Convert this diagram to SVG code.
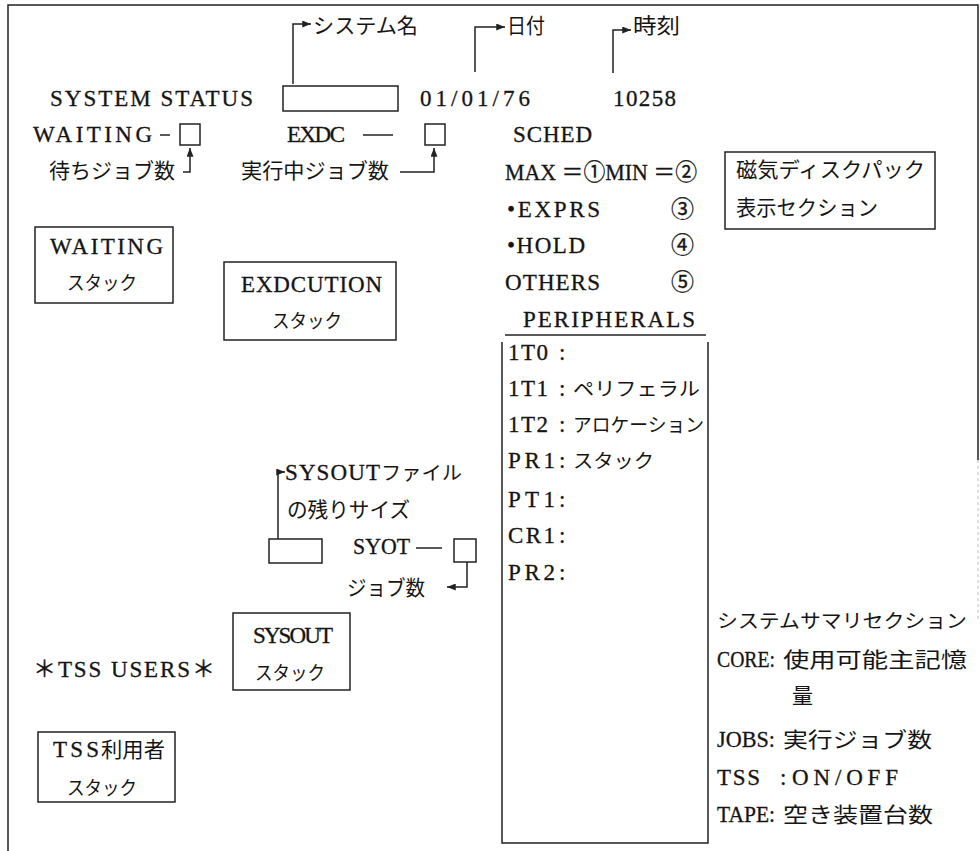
<svg xmlns="http://www.w3.org/2000/svg" width="980" height="851" viewBox="0 0 980 851">
<style>
  .t { font-family: "Liberation Serif", "Noto Sans CJK JP", serif; font-size: 23px; fill: #151515; stroke: #151515; stroke-width: 0.3; }
  .j { font-family: "Noto Sans CJK JP", sans-serif; font-size: 21px; fill: #151515; }
  .k { font-family: "Noto Sans CJK JP", sans-serif; font-size: 19px; fill: #151515; }
  .box { fill: none; stroke: #222; stroke-width: 1.5; }
  .ln { fill: none; stroke: #222; stroke-width: 1.5; }
</style>
<defs>
  <marker id="ah" viewBox="0 0 10 8" refX="10" refY="4" markerWidth="9" markerHeight="7" markerUnits="userSpaceOnUse" orient="auto">
    <path d="M0,0 L10,4 L0,8 z" fill="#222"/>
  </marker>
</defs>
<rect width="980" height="851" fill="#ffffff"/>

<g id="frame">
  <path class="ln" d="M8,851 V5 H978 V460"/>
  <path d="M978,460 V620" stroke="#bbb" stroke-width="1" stroke-dasharray="3,3" fill="none"/>
</g>

<g id="connectors">
  <path class="ln" d="M293,84 V24 H311" marker-end="url(#ah)"/>
  <path class="ln" d="M475,72 V27 H505" marker-end="url(#ah)"/>
  <path class="ln" d="M613,73 V30 H631" marker-end="url(#ah)"/>
  <path class="ln" d="M183,172 H190 V148" marker-end="url(#ah)"/>
  <path class="ln" d="M400,172 H434 V148" marker-end="url(#ah)"/>
  <path class="ln" d="M278,539 V472 H285" marker-end="url(#ah)"/>
  <path class="ln" d="M467,562 V587 H447" marker-end="url(#ah)"/>
</g>

<g id="header-labels">
  <text class="j" x="313" y="33" textLength="105" lengthAdjust="spacingAndGlyphs">システム名</text>
  <text class="j" x="507" y="33" textLength="38" lengthAdjust="spacingAndGlyphs">日付</text>
  <text class="j" x="633" y="33" textLength="47" lengthAdjust="spacingAndGlyphs">時刻</text>
</g>

<g id="system-status">
  <text class="t" x="50" y="106" textLength="203" lengthAdjust="spacing">SYSTEM STATUS</text>
  <rect class="box" x="283" y="86" width="115" height="25"/>
  <text class="t" x="420" y="106" textLength="110" lengthAdjust="spacing">01/01/76</text>
  <text class="t" x="613" y="106" textLength="63" lengthAdjust="spacing">10258</text>
</g>

<g id="waiting-count">
  <text class="t" x="33" y="142" textLength="119" lengthAdjust="spacing">WAITING</text>
  <line class="ln" x1="160" y1="135" x2="170" y2="135"/>
  <rect class="box" x="180" y="124" width="20" height="21"/>
  <text class="j" x="49" y="178" textLength="126" lengthAdjust="spacingAndGlyphs">待ちジョブ数</text>
</g>

<g id="exdc-count">
  <text class="t" x="287" y="142" textLength="58" lengthAdjust="spacing">EXDC</text>
  <line class="ln" x1="363" y1="135" x2="393" y2="135"/>
  <rect class="box" x="425" y="124" width="20" height="21"/>
  <text class="j" x="241" y="178" textLength="148" lengthAdjust="spacingAndGlyphs">実行中ジョブ数</text>
</g>

<g id="sched">
  <text class="t" x="513" y="142" textLength="79" lengthAdjust="spacing">SCHED</text>
  <text class="t" x="505" y="180" textLength="192" lengthAdjust="spacingAndGlyphs">MAX ＝①MIN ＝②</text>
  <text class="t" x="507" y="217" textLength="93" lengthAdjust="spacing">•EXPRS</text>
  <text class="t" x="671" y="217">③</text>
  <text class="t" x="507" y="253" textLength="78" lengthAdjust="spacing">•HOLD</text>
  <text class="t" x="671" y="253">④</text>
  <text class="t" x="505" y="290" textLength="95" lengthAdjust="spacing">OTHERS</text>
  <text class="t" x="671" y="290">⑤</text>
</g>

<g id="disk-pack">
  <rect class="box" x="725" y="152" width="210" height="77"/>
  <text class="j" x="736" y="177" textLength="189" lengthAdjust="spacingAndGlyphs">磁気ディスクパック</text>
  <text class="j" x="736" y="215" textLength="142" lengthAdjust="spacingAndGlyphs">表示セクション</text>
</g>

<g id="waiting-stack">
  <rect class="box" x="35" y="227" width="138" height="76"/>
  <text class="t" x="50" y="254" textLength="113" lengthAdjust="spacing">WAITING</text>
  <text class="k" x="67" y="290" textLength="70" lengthAdjust="spacingAndGlyphs">スタック</text>
</g>

<g id="execution-stack">
  <rect class="box" x="224" y="262" width="172" height="78"/>
  <text class="t" x="241" y="292" textLength="141" lengthAdjust="spacing">EXDCUTION</text>
  <text class="k" x="272" y="328" textLength="70" lengthAdjust="spacingAndGlyphs">スタック</text>
</g>

<g id="peripherals">
  <text class="t" x="523" y="327" textLength="172" lengthAdjust="spacing">PERIPHERALS</text>
  <line class="ln" x1="505" y1="335" x2="706" y2="335"/>
  <path class="ln" d="M502,342 V843 H708 V342"/>
  <text class="t" x="508" y="360" textLength="40" lengthAdjust="spacing">1T0</text>
  <text class="t" x="559" y="360">:</text>
  <text class="t" x="508" y="396" textLength="40" lengthAdjust="spacing">1T1</text>
  <text class="t" x="559" y="396">:</text>
  <text class="k" x="573" y="396" textLength="127" lengthAdjust="spacingAndGlyphs">ペリフェラル</text>
  <text class="t" x="508" y="432" textLength="40" lengthAdjust="spacing">1T2</text>
  <text class="t" x="559" y="432">:</text>
  <text class="k" x="573" y="432" textLength="131" lengthAdjust="spacingAndGlyphs">アロケーション</text>
  <text class="t" x="508" y="468" textLength="47" lengthAdjust="spacing">PR1</text>
  <text class="t" x="559" y="468">:</text>
  <text class="k" x="573" y="468" textLength="81" lengthAdjust="spacingAndGlyphs">スタック</text>
  <text class="t" x="508" y="507" textLength="47" lengthAdjust="spacing">PT1</text>
  <text class="t" x="559" y="507">:</text>
  <text class="t" x="508" y="543" textLength="47" lengthAdjust="spacing">CR1</text>
  <text class="t" x="559" y="543">:</text>
  <text class="t" x="508" y="580" textLength="47" lengthAdjust="spacing">PR2</text>
  <text class="t" x="559" y="580">:</text>
</g>

<g id="sysout-file">
  <text class="t" x="285" y="480" textLength="95" lengthAdjust="spacing">SYSOUT</text>
  <text class="k" x="381" y="480" textLength="81" lengthAdjust="spacingAndGlyphs">ファイル</text>
  <text class="j" x="287" y="517" textLength="123" lengthAdjust="spacingAndGlyphs">の残りサイズ</text>
  <rect class="box" x="269" y="539" width="53" height="24"/>
</g>

<g id="syot-count">
  <text class="t" x="353" y="554" textLength="57" lengthAdjust="spacingAndGlyphs">SYOT</text>
  <line class="ln" x1="416" y1="548" x2="442" y2="548"/>
  <rect class="box" x="454" y="539" width="22" height="23"/>
  <text class="j" x="347" y="595" textLength="78" lengthAdjust="spacingAndGlyphs">ジョブ数</text>
</g>

<g id="sysout-stack">
  <rect class="box" x="233" y="613" width="117" height="77"/>
  <text class="t" x="253" y="643" textLength="80" lengthAdjust="spacing">SYSOUT</text>
  <text class="k" x="255" y="680" textLength="70" lengthAdjust="spacingAndGlyphs">スタック</text>
</g>

<g id="tss-users">
  <text class="t" x="33" y="677" textLength="182" lengthAdjust="spacing">＊TSS USERS＊</text>
</g>

<g id="tss-stack">
  <rect class="box" x="38" y="732" width="137" height="70"/>
  <text class="t" x="53" y="757" textLength="46" lengthAdjust="spacing">TSS</text>
  <text class="j" x="101" y="757" textLength="64" lengthAdjust="spacingAndGlyphs">利用者</text>
  <text class="k" x="67" y="795" textLength="70" lengthAdjust="spacingAndGlyphs">スタック</text>
</g>

<g id="system-summary">
  <text class="k" x="717" y="628" textLength="250" lengthAdjust="spacingAndGlyphs">システムサマリセクション</text>
  <text class="t" x="717" y="667" textLength="58" lengthAdjust="spacingAndGlyphs">CORE:</text>
  <text class="j" x="783" y="667" font-size="23" textLength="184" lengthAdjust="spacingAndGlyphs">使用可能主記憶</text>
  <text class="j" x="792" y="703" font-size="23">量</text>
  <text class="t" x="717" y="747" textLength="58" lengthAdjust="spacingAndGlyphs">JOBS:</text>
  <text class="j" x="783" y="747" font-size="23" textLength="149" lengthAdjust="spacingAndGlyphs">実行ジョブ数</text>
  <text class="t" x="717" y="785" textLength="43" lengthAdjust="spacing">TSS</text>
  <text class="t" x="780" y="785">:</text>
  <text class="t" x="792" y="785" textLength="106" lengthAdjust="spacing">ON/OFF</text>
  <text class="t" x="717" y="822" textLength="58" lengthAdjust="spacingAndGlyphs">TAPE:</text>
  <text class="j" x="783" y="822" font-size="23" textLength="150" lengthAdjust="spacingAndGlyphs">空き装置台数</text>
</g>
</svg>
